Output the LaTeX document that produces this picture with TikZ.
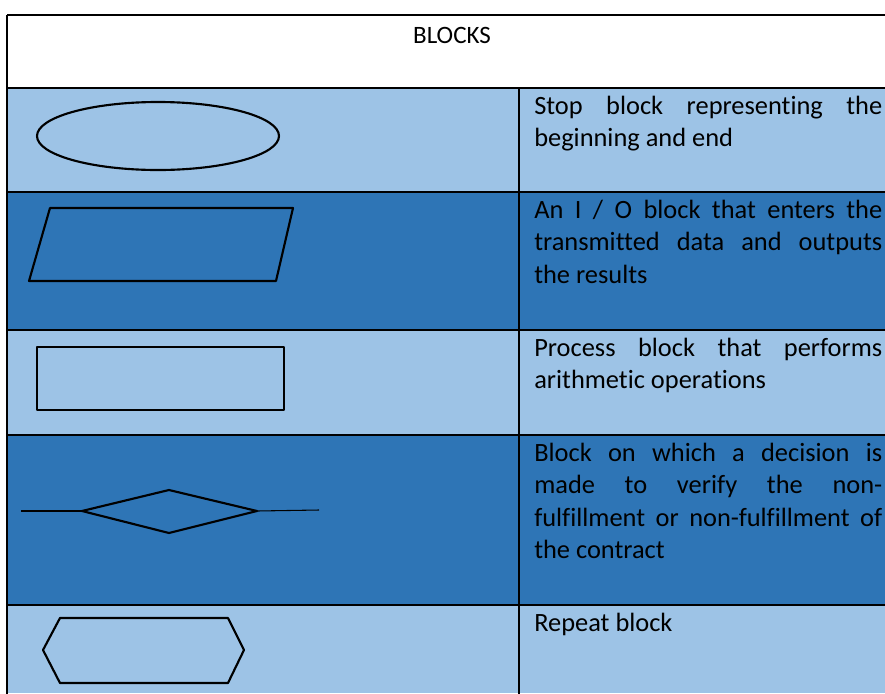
\documentclass[tikz,border=0pt]{standalone}
\usepackage{fontspec}
\setmainfont[Ligatures=NoCommon]{Carlito}
\definecolor{rowlight}{HTML}{9DC3E6}
\definecolor{rowdark}{HTML}{2E75B6}

\begin{document}
\begin{tikzpicture}[x=0.75pt,y=-0.75pt,
    celltext/.style={anchor=base west, inner sep=0pt, text width=261pt, align=justify,
      font=\fontsize{19.8}{24.4}\selectfont},
    gridline/.style={line width=1.5pt, black},
    shapeline/.style={line width=1.6pt, black, line join=round}]
        \useasboundingbox (0,0) rectangle (885,693);

        % Fundos das linhas
        \fill[white] (0,0) rectangle (885,88);
        \fill[rowlight] (7,88) rectangle (885,192);
        \fill[rowdark] (7,192) rectangle (885,330);
        \fill[rowlight] (7,330) rectangle (885,435);
        \fill[rowdark] (7,435) rectangle (885,605);
        \fill[rowlight] (7,605) rectangle (885,693);

        % Grade da tabela
        \foreach \y in {15,88,192,330,435,605}
            \draw[gridline] (7,\y) -- (886,\y);
        \draw[gridline] (7,15) -- (7,694);
        \draw[gridline] (519,88) -- (519,694);

        % Cabecalho
        \node[anchor=base, inner sep=0pt, font=\fontsize{18.75}{24.4}\selectfont] (title) at (452,43) {BLOCKS};

        % Blocos
        \draw[shapeline] (158,136) ellipse [x radius=121, y radius=34];
        \draw[shapeline] (50,208) -- (293,208) -- (276,281) -- (29,281) -- cycle;
        \draw[shapeline] (37,347) rectangle (284,410);
        \coordinate (decW) at (82,511);
        \coordinate (decE) at (257,511);
        \draw[shapeline] (decW) -- (169,490) -- (decE) -- (169,533) -- cycle;
        \draw[line width=0.8pt] (21,511) -- (decW);
        \draw[line width=0.8pt] (decE) -- (319,510);
        \draw[shapeline] (60,618) -- (228,618) -- (244,650) -- (228,683) -- (60,683) -- (43,650) -- cycle;

        % Descricoes
        \node[celltext] (stoptext) at (534,114) {Stop block representing the\linebreak beginning and end};
        \node[celltext] (iotext) at (534,218) {An I / O block that enters the\linebreak transmitted data and outputs\linebreak the results};
        \node[celltext] (proctext) at (534,356) {Process block that performs\linebreak arithmetic operations};
        \node[celltext] (dectext) at (534,461) {Block on which a decision is\linebreak made to verify the non-\linebreak fulfillment or non-fulfillment of\linebreak the contract};
        \node[celltext] (reptext) at (534,631) {Repeat block};
\end{tikzpicture}
\end{document}
